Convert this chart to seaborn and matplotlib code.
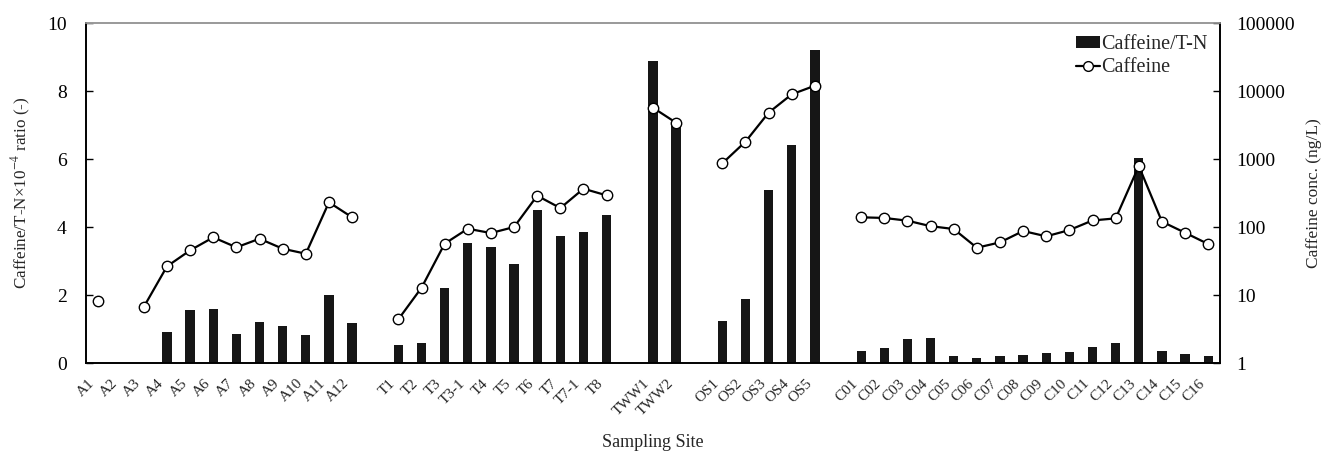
import numpy as np
import pandas as pd
import matplotlib
matplotlib.use("Agg")
import matplotlib.pyplot as plt
import matplotlib.transforms as mtransforms
from matplotlib.patches import Patch
from matplotlib.lines import Line2D
from matplotlib.ticker import FixedLocator, FixedFormatter, NullLocator
import seaborn as sns

# ---- data -------------------------------------------------------------
group_a = ["A1", "A2", "A3", "A4", "A5", "A6", "A7", "A8", "A9", "A10", "A11", "A12"]
group_t = ["T1", "T2", "T3", "T3-1", "T4", "T5", "T6", "T7", "T7-1", "T8"]
group_tww = ["TWW1", "TWW2"]
group_os = ["OS1", "OS2", "OS3", "OS4", "OS5"]
group_c = ["C01", "C02", "C03", "C04", "C05", "C06", "C07", "C08",
           "C09", "C10", "C11", "C12", "C13", "C14", "C15", "C16"]

# Caffeine/T-N x 1e-4 ratio (-)
ratio_a = [np.nan, np.nan, np.nan, 0.92, 1.56, 1.59, 0.84, 1.20, 1.10, 0.82, 1.99, 1.17]
ratio_t = [0.52, 0.60, 2.21, 3.53, 3.42, 2.92, 4.51, 3.74, 3.86, 4.34]
ratio_tww = [8.87, 7.05]
ratio_os = [1.25, 1.88, 5.10, 6.42, 9.22]
ratio_c = [0.35, 0.45, 0.71, 0.73, 0.21, 0.14, 0.20, 0.24,
           0.31, 0.33, 0.48, 0.58, 6.04, 0.34, 0.27, 0.20]

# Caffeine concentration (ng/L)
caf_a = [8.2, np.nan, 6.7, 26.4, 45.4, 70.5, 50.3, 67.3, 48.0, 40.5, 231, 139]
caf_t = [4.4, 12.8, 56.9, 94.4, 81.6, 100, 289, 190, 366, 292]
caf_tww = [5690, 3420]
caf_os = [864, 1798, 4800, 8940, 11970]
caf_c = [139, 136, 124, 103, 93.5, 49.6, 59.5, 87.4,
         73.0, 90.3, 125, 134, 789, 120, 82.4, 56.2]

groups = [
    (group_a, ratio_a, caf_a),
    (group_t, ratio_t, caf_t),
    (group_tww, ratio_tww, caf_tww),
    (group_os, ratio_os, caf_os),
    (group_c, ratio_c, caf_c),
]

# ---- build table: one empty slot between groups ------------------------
rows = []
pos = 0
seg = 0
for names, ratios, cafs in groups:
    prev_missing = True
    for name, r, c in zip(names, ratios, cafs):
        if np.isnan(c):
            prev_missing = True
        elif prev_missing:
            seg += 1
            prev_missing = False
        rows.append(dict(site=name, pos=pos, ratio=r, caffeine=c, segment=seg))
        pos += 1
    pos += 1
df = pd.DataFrame(rows)
n_slots = pos - 1

# ---- style ------------------------------------------------------------
sns.set_theme(style="white")
plt.rcParams["font.family"] = ["Liberation Serif", "DejaVu Serif"]
plt.rcParams["mathtext.fontset"] = "stix"

fig = plt.figure(figsize=(13.23, 4.51), dpi=100)
ax = fig.add_axes([0.065, 0.195, 0.857, 0.754])
ax2 = ax.twinx()

bar_df = df.dropna(subset=["ratio"])
sns.barplot(data=bar_df, x="pos", y="ratio", native_scale=True, width=0.4,
            color="#161616", edgecolor="none", linewidth=0, ax=ax,
            errorbar=None, zorder=2)

line_df = df.dropna(subset=["caffeine"])
sns.lineplot(data=line_df, x="pos", y="caffeine", units="segment",
             estimator=None, sort=False, color="black", linewidth=1.6,
             marker="o", markersize=7.5, markerfacecolor="white",
             markeredgecolor="black", markeredgewidth=1.0, ax=ax2)

# ---- axes -------------------------------------------------------------
ax.set_xlim(-0.5, n_slots - 0.5)
ax.set_ylim(0, 10)
ax.set_yticks([0, 2, 4, 6, 8, 10])
ax.set_xticks(df["pos"].tolist())
ax.set_xticklabels(df["site"].tolist(), rotation=45, ha="right",
                   va="center", rotation_mode="anchor", fontsize=11)
ax.tick_params(axis="x", length=0, pad=13)
shift = mtransforms.ScaledTranslation(-0.05, 0, fig.dpi_scale_trans)
for lbl in ax.get_xticklabels():
    lbl.set_transform(lbl.get_transform() + shift)
ax.tick_params(axis="y", direction="in", length=5, width=1, labelsize=14,
               pad=14, left=True, colors="black")
ax.set_xlabel("Sampling Site", fontsize=13)
ax.xaxis.set_label_coords(0.5, -0.21)
ax.set_ylabel("Caffeine/T-N×10$^{-4}$ ratio (-)", fontsize=12.3, labelpad=10)

ax2.set_yscale("log")
ax2.set_ylim(1, 100000)
decades = [1, 10, 100, 1000, 10000, 100000]
ax2.yaxis.set_major_locator(FixedLocator(decades))
ax2.yaxis.set_major_formatter(FixedFormatter([str(d) for d in decades]))
ax2.yaxis.set_minor_locator(NullLocator())
ax2.tick_params(axis="y", direction="in", length=5, width=1, labelsize=14,
                pad=12, right=True, colors="black")
ax2.set_ylabel("Caffeine conc. (ng/L)", fontsize=12.5, labelpad=8)
ax2.set_xlabel("")

for a in (ax, ax2):
    for side in ("left", "right", "bottom"):
        a.spines[side].set_color("black")
        a.spines[side].set_linewidth(1.2)
    a.spines["top"].set_color("#999999")
    a.spines["top"].set_linewidth(1.2)
    a.grid(False)

handles = [
    Patch(facecolor="#161616", edgecolor="none", label="Caffeine/T-N"),
    Line2D([0], [0], color="black", linewidth=1.6, marker="o", markersize=7,
           markerfacecolor="white", markeredgecolor="black", label="Caffeine"),
]
ax2.legend(handles=handles, loc="upper right", frameon=False, fontsize=14.5,
           handlelength=1.2, handleheight=0.5, handletextpad=0.05,
           labelspacing=0.2, borderaxespad=0.2)

fig.savefig("out.png", dpi=100)
